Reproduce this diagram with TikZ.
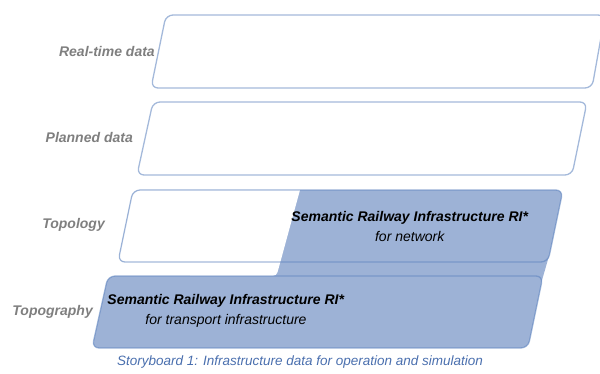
\documentclass[tikz,border=0pt]{standalone}
\usepackage{fontspec}
\setmainfont{Liberation Sans}
\definecolor{fillblue}{HTML}{9DB2D6}
\definecolor{edgeblue}{HTML}{5A80BD}
\definecolor{labelgray}{HTML}{7F7F7F}
\definecolor{capblue}{HTML}{4A6FAE}
\begin{document}
\begin{tikzpicture}[x=1pt,y=-1pt,
  boxedge/.style={draw=edgeblue,draw opacity=0.55,line width=1.3pt,rounded corners=7pt},
  layerlabel/.style={anchor=east,text=labelgray,font=\fontsize{14}{16}\selectfont\bfseries\itshape,inner sep=0pt},
  bluetext/.style={align=center,text=black,font=\fontsize{14}{18}\selectfont,inner sep=0pt},
  caption/.style={text=capblue,font=\fontsize{13.5}{16}\selectfont\itshape,inner sep=0pt}]
\useasboundingbox (0,0) rectangle (600,374);
% Real-time data
\filldraw[boxedge,fill=white] (166,15) -- (605,15) -- (592,88) -- (151,88) -- cycle;
\node[layerlabel] (rt) at (155,52) {Real-time data};
% Planned data
\filldraw[boxedge,fill=white] (153,102) -- (587,102) -- (572,175) -- (137,175) -- cycle;
\node[layerlabel] (pd) at (133,138) {Planned data};
% blue regions
\fill[fillblue,rounded corners=7pt] (133,190) -- (563,190) -- (548,262) -- (118,262) -- cycle;
\fill[fillblue,rounded corners=7pt] (108,276) -- (543,276) -- (528,348) -- (92,348) -- cycle;
\fill[fillblue] (260,256) -- (549,256) -- (541.5,282) -- (255,282) -- cycle;
% white part of topology (left of the divider)
\fill[white,rounded corners=7pt] (118,262) -- (133,190) -- (200,190) -- (200,262) -- cycle;
\fill[white] (190,190) -- (300,190) -- (278.7,268) .. controls (276.5,276) .. (268,276) -- (190,276) -- cycle;
% outlines
\draw[boxedge] (133,190) -- (563,190) -- (548,262) -- (118,262) -- cycle;
\draw[boxedge] (108,276) -- (543,276) -- (528,348) -- (92,348) -- cycle;
\node[layerlabel] (tl) at (105,225) {Topology};
\node[layerlabel] (tg) at (93,312) {Topography};
\node[bluetext] (srn) at (410,226) {\textbf{\textit{Semantic Railway Infrastructure RI*}}\\[2pt]\textit{for network}};
\node[bluetext] (srt) at (226,311) {\textbf{\textit{Semantic Railway Infrastructure RI*}}\\[2pt]\textit{for transport infrastructure}};
\node[caption] (cap) at (300,362) {Storyboard 1: Infrastructure data for operation and simulation};
\end{tikzpicture}
\end{document}
